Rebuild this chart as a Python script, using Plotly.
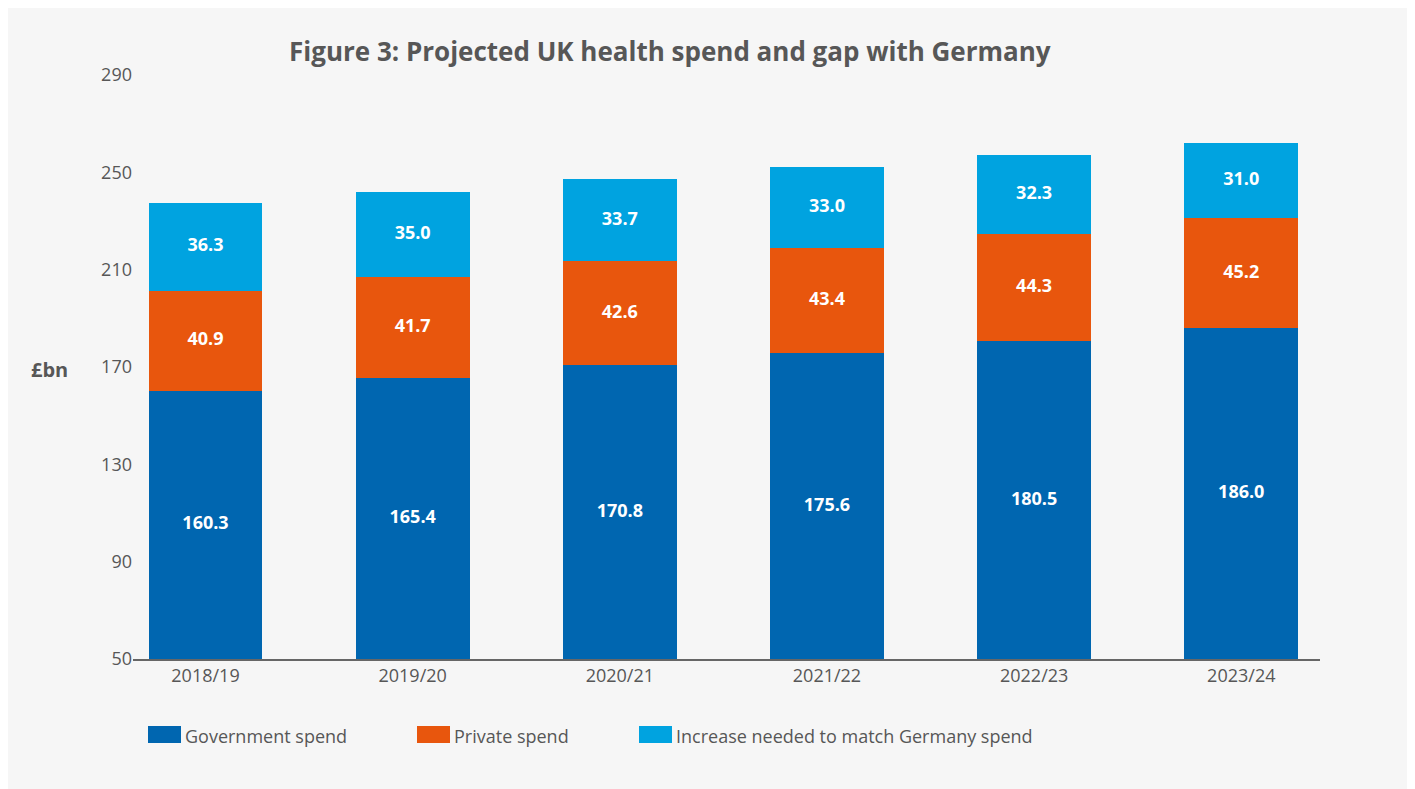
import plotly.graph_objects as go

categories = ["2018/19", "2019/20", "2020/21", "2021/22", "2022/23", "2023/24"]
government = [160.3, 165.4, 170.8, 175.6, 180.5, 186.0]
private = [40.9, 41.7, 42.6, 43.4, 44.3, 45.2]
gap = [36.3, 35.0, 33.7, 33.0, 32.3, 31.0]
series_names = ["Government spend", "Private spend", "Increase needed to match Germany spend"]
y_ticks = [50, 90, 130, 170, 210, 250, 290]
y_min, y_max = 50, 290

colors = ["#0066b0", "#e8560d", "#00a3e0"]
font_family = "Open Sans, Noto Sans, sans-serif"
text_grey = "#575757"

# page is offset by the 8px body margin
OFF = 8
W, H = 1415 - OFF, 789 - OFF
L, T = 133 - OFF, 75 - OFF
R = W - (1320 - OFF)
B = H - (659 - OFF)
pw, ph = W - L - R, H - T - B


def px_x(px):
    return (px - OFF - L) / pw


def px_y(py):
    return (H - B - (py - OFF)) / ph


fig = go.Figure()
series = [government, private, gap]
for name, vals, col in zip(series_names, series, colors):
    fig.add_trace(go.Bar(
        x=categories, y=vals, name=name,
        marker=dict(color=col, line=dict(width=0)),
        width=0.55, showlegend=False, hoverinfo="skip",
    ))

# value labels centred on the visible part of each segment
bottom = [y_min] * len(categories)
for vals in series:
    lower = bottom
    upper = [b + v if b > y_min else v for b, v in zip(bottom, vals)]
    mids = [(lo + up) / 2 for lo, up in zip(lower, upper)]
    fig.add_trace(go.Scatter(
        x=categories, y=mids, mode="text", text=[f"{v:.1f}" for v in vals],
        textfont=dict(color="white", size=18, family=font_family, weight="bold"),
        showlegend=False, hoverinfo="skip",
    ))
    bottom = upper

shapes = [dict(type="rect", xref="paper", yref="paper", layer="below",
               x0=px_x(5), x1=px_x(1411), y0=px_y(789), y1=px_y(6),
               fillcolor="#f6f6f6", line=dict(width=0))]
annotations = [
    dict(text="<b>Figure 3: Projected UK health spend and gap with Germany</b>",
         xref="paper", yref="paper", x=px_x(670), y=px_y(51), xanchor="center", yanchor="middle",
         showarrow=False, font=dict(size=26, color=text_grey, family=font_family)),
    dict(text="<b>£bn</b>", xref="paper", yref="paper", x=px_x(49), y=px_y(369),
         xanchor="center", yanchor="middle", showarrow=False,
         font=dict(size=20, color=text_grey, family=font_family)),
]

legend_x = [148, 417, 639]
for name, col, lx in zip(series_names, colors, legend_x):
    shapes.append(dict(type="rect", xref="paper", yref="paper",
                       x0=px_x(lx), x1=px_x(lx + 33), y0=px_y(743), y1=px_y(726),
                       fillcolor=col, line=dict(width=0)))
    annotations.append(dict(text=name, xref="paper", yref="paper", x=px_x(lx + 35), y=px_y(736),
                            xanchor="left", yanchor="middle", showarrow=False,
                            font=dict(size=18, color=text_grey, family=font_family)))

fig.update_layout(
    barmode="stack",
    width=W, height=H,
    margin=dict(l=L, r=R, t=T, b=B),
    paper_bgcolor="white",
    plot_bgcolor="rgba(0,0,0,0)",
    shapes=shapes,
    annotations=annotations,
    showlegend=False,
    font=dict(family=font_family, color=text_grey),
)
fig.update_xaxes(range=[-0.35, 5.38], showline=True, linecolor="#666666", linewidth=1.5,
                 ticks="", showgrid=False, zeroline=False,
                 tickfont=dict(size=18, color=text_grey, family=font_family))
fig.update_yaxes(range=[y_min, y_max], tickvals=y_ticks, showline=False, showgrid=False,
                 zeroline=False, ticks="",
                 tickfont=dict(size=18, color=text_grey, family=font_family))

fig.write_html("out.html")
